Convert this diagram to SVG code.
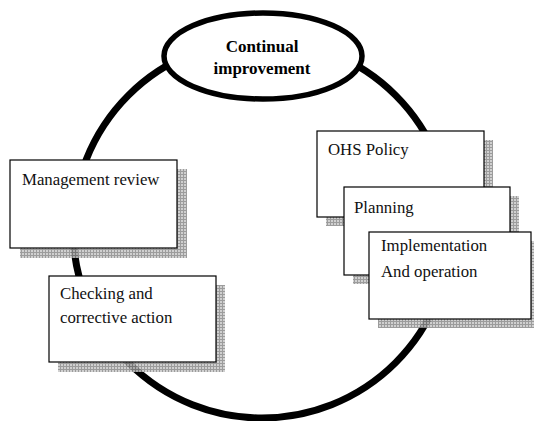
<svg xmlns="http://www.w3.org/2000/svg" width="534" height="421" viewBox="0 0 534 421">
<defs>
<pattern id="grid" width="3" height="3" patternUnits="userSpaceOnUse">
<rect width="3" height="3" fill="#c8c8c8"/>
<path d="M0 0.5H3M0.5 0V3" stroke="#8a8a8a" stroke-width="1"/>
</pattern>
</defs>
<style>
.shadow{fill:url(#grid);opacity:0.85}
.box{fill:#fff;stroke:#000;stroke-width:1.2}
.lbl{font-family:"Liberation Serif","Times New Roman",serif;font-size:16.8px;fill:#111}
.title{font-family:"Liberation Serif","Times New Roman",serif;font-size:17px;font-weight:bold;fill:#000;text-anchor:middle}
</style>
<rect width="534" height="421" fill="#fff"/>
<g id="connectors">
<circle cx="262" cy="229" r="189" fill="none" stroke="#000" stroke-width="7"/>
</g>
<g id="continual">
<ellipse cx="263" cy="56" rx="99" ry="43" fill="#fff" stroke="#000" stroke-width="5.5"/>
<text class="title" x="262" y="52">Continual</text>
<text class="title" x="262" y="74">improvement</text>
</g>
<g id="management">
<rect class="shadow" x="20" y="169" width="167" height="89"/>
<rect class="box" x="10" y="160" width="167" height="88"/>
<text class="lbl" x="22" y="185">Management review</text>
</g>
<g id="checking">
<rect class="shadow" x="58" y="285" width="167" height="87"/>
<rect class="box" x="49" y="276" width="167" height="86"/>
<text class="lbl" x="60" y="299">Checking and</text>
<text class="lbl" x="60" y="323">corrective action</text>
</g>
<g id="ohs">
<rect class="shadow" x="326" y="140" width="167" height="86"/>
<rect class="box" x="317" y="131" width="167" height="86"/>
<text class="lbl" x="328" y="155">OHS Policy</text>
</g>
<g id="planning">
<rect class="shadow" x="353" y="196" width="166" height="88"/>
<rect class="box" x="344" y="187" width="166" height="88"/>
<text class="lbl" x="354" y="213">Planning</text>
</g>
<g id="implementation">
<rect class="shadow" x="378" y="241" width="160" height="87"/>
<rect class="box" x="369" y="232" width="162" height="87"/>
<text class="lbl" x="381" y="251">Implementation</text>
<text class="lbl" x="381" y="277">And operation</text>
</g>
</svg>
